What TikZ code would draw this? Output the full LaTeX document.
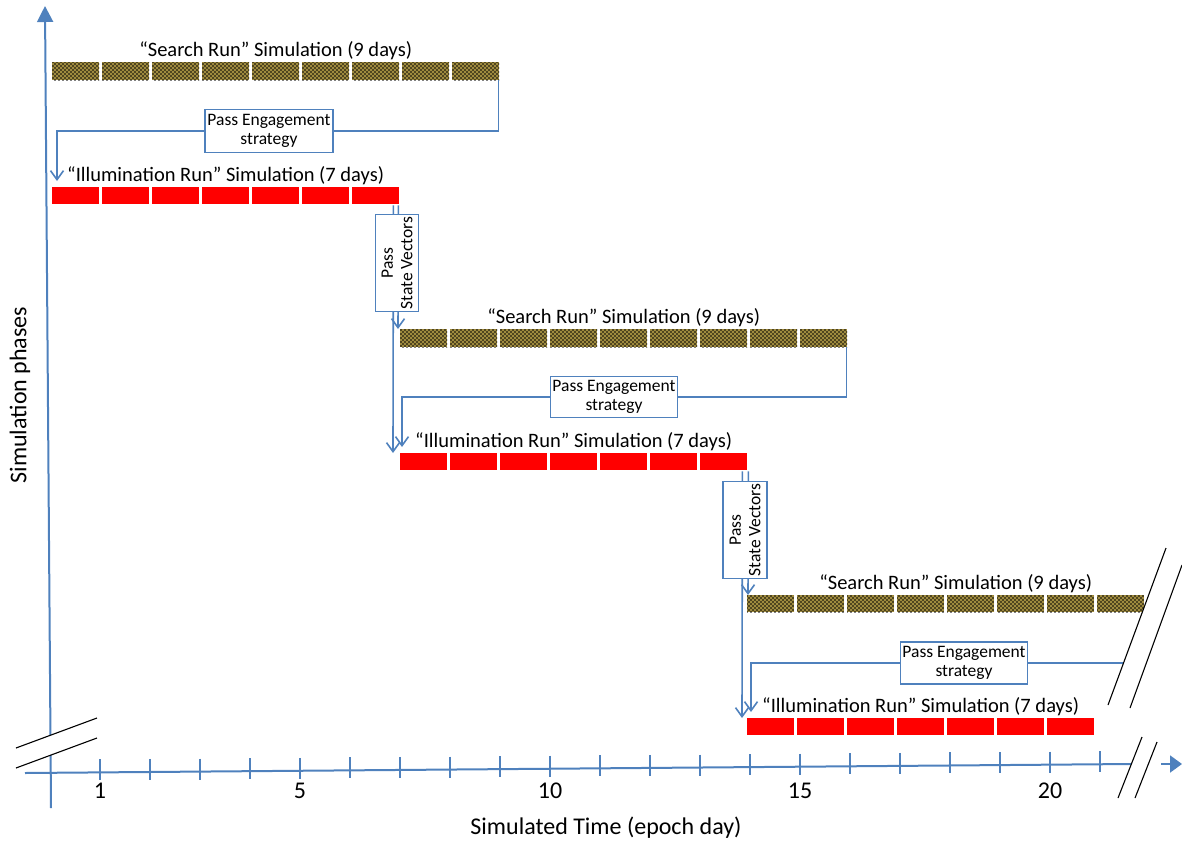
\documentclass[tikz,border=0pt]{standalone}
\usepackage{fontspec}
\setmainfont{Carlito}
\usetikzlibrary{arrows.meta,positioning,patterns}
\definecolor{lineblue}{RGB}{79,129,189}
\definecolor{searchgold}{RGB}{158,138,62}
\definecolor{illumred}{RGB}{255,0,0}
\pgfdeclarepatternformonly{searchdots}{\pgfqpoint{-1pt}{-1pt}}{\pgfqpoint{5pt}{5pt}}{\pgfqpoint{4pt}{4pt}}{
  \pgfpathcircle{\pgfqpoint{1pt}{1pt}}{0.8pt}
  \pgfpathcircle{\pgfqpoint{3pt}{3pt}}{0.8pt}
  \pgfusepath{fill}
}

\begin{document}
\begin{tikzpicture}[
  x=1pt, y=-1pt,
  axis/.style={draw=lineblue, line width=2pt},
  flow/.style={draw=lineblue, line width=1.6pt},
  open/.style={-{Straight Barb[length=9pt,width=13pt]}},
  brk/.style={draw=black, line width=1.1pt},
  runbar/.style={inner sep=0pt, minimum height=18pt, anchor=north west},
  searchseg/.style={fill=searchgold, postaction={pattern=searchdots, pattern color=black}},
  illumseg/.style={fill=illumred},
  runlabel/.style={font=\fontsize{20.5}{23}\selectfont, inner sep=1pt},
  passbox/.style={draw=lineblue, line width=1.2pt, fill=white, align=center,
    font=\fontsize{17.5}{19.5}\selectfont, inner sep=2pt},
  axislabel/.style={font=\fontsize{24}{27}\selectfont}
]
  \useasboundingbox (0,0) rectangle (1182,843);

  % axes
  \coordinate (ybot) at (51,808);
  \coordinate (ytop) at (45,6);
  \coordinate (xleft) at (25,773);
  \coordinate (xright) at (1132,764);
  \draw[axis, -{Triangle[length=16pt,width=16pt]}] (ybot) -- (ytop);
  \draw[axis] (xleft) -- (xright);
  \foreach \d in {1,...,21} {
    \pgfmathsetmacro\tx{50+50*\d}
    \pgfmathsetmacro\ty{773-9*(\tx-25)/1107}
    \draw[axis] (\tx,{\ty-13}) -- (\tx,{\ty+8});
  }
  \foreach \d in {1,5,10,15,20}
    \node[axislabel] (t\d) at ({50+50*\d},791) {\d};
  \coordinate (xarr) at (1161,764);
  \coordinate (xend) at (1182,764);
  \draw[axis, -{Triangle[length=12pt,width=17pt]}] (xarr) -- (xend);

  \node[axislabel, rotate=90] (ylab) at (20,395) {Simulation phases};
  \node[axislabel] (xlab) at (606,828) {Simulated Time (epoch day)};

  % run bars
  \node[runbar, minimum width=447pt] (s1) at (52,62) {};
  \node[runbar, minimum width=347pt] (i1) at (52,187) {};
  \node[runbar, minimum width=447pt] (s2) at (400,329) {};
  \node[runbar, minimum width=347pt] (i2) at (400,453) {};
  \node[runbar, minimum width=397pt] (s3) at (747,595) {};
  \node[runbar, minimum width=347pt] (i3) at (747,718) {};

  \foreach \i in {0,...,8} {
    \path[searchseg] ([xshift=\i*50pt]s1.north west) rectangle ++(47,18);
    \path[searchseg] ([xshift=\i*50pt]s2.north west) rectangle ++(47,18);
  }
  \foreach \i in {0,...,7}
    \path[searchseg] ([xshift=\i*50pt]s3.north west) rectangle ++(47,17);
  \foreach \i in {0,...,6} {
    \path[illumseg] ([xshift=\i*50pt]i1.north west) rectangle ++(47,17);
    \path[illumseg] ([xshift=\i*50pt]i2.north west) rectangle ++(47,17);
    \path[illumseg] ([xshift=\i*50pt]i3.north west) rectangle ++(47,17);
  }

  \node[runlabel, above=1pt of s1] (s1lab) {“Search Run” Simulation (9 days)};
  \node[runlabel, above=1pt of i1] (i1lab) {“Illumination Run” Simulation (7 days)};
  \node[runlabel, above=1pt of s2] (s2lab) {“Search Run” Simulation (9 days)};
  \node[runlabel, above=1pt of i2] (i2lab) {“Illumination Run” Simulation (7 days)};
  \node[runlabel, above=1pt of s3, xshift=10pt] (s3lab) {“Search Run” Simulation (9 days)};
  \node[runlabel, above=1pt of i3] (i3lab) {“Illumination Run” Simulation (7 days)};

  % engagement strategy hand-over
  \node[passbox, minimum width=128pt, minimum height=43pt] (pe1) at (269,131) {Pass Engagement\\strategy};
  \node[passbox, minimum width=124pt, minimum height=41pt] (pe2) at (614,397) {Pass Engagement\\strategy};
  \node[passbox, minimum width=124pt, minimum height=42pt] (pe3) at (964,663) {Pass Engagement\\strategy};
  \coordinate (e1) at ([xshift=5pt,yshift=6pt]i1.north west);
  \coordinate (e2) at ([xshift=2pt,yshift=6pt]i2.north west);
  \coordinate (e3) at ([xshift=4pt,yshift=6pt]i3.north west);
  \coordinate (c3) at (1127,663);

  \draw[flow] ([xshift=-1pt]s1.south east) |- (pe1.east);
  \draw[flow, open] (pe1.west) -| (e1);
  \draw[flow] ([xshift=-1pt]s2.south east) |- (pe2.east);
  \draw[flow, open] (pe2.west) -| (e2);
  \draw[flow] (c3) -- (pe3.east);
  \draw[flow, open] (pe3.west) -| (e3);

  % state vector hand-over
  \draw[flow, open] ([xshift=-1pt]i1.south east) -- ([xshift=-2pt]s2.north west);
  \draw[flow, open] ([xshift=-6pt]i1.south east) -- ([xshift=-7pt]i2.north west);
  \draw[flow, open] ([xshift=1pt]i2.south east) -- ([xshift=1pt]s3.north west);
  \draw[flow, open] ([xshift=-5pt]i2.south east) -- ([xshift=-5pt]i3.north west);
  \node[passbox, rotate=90, minimum width=96pt, minimum height=43pt] (psv1) at (397,263) {Pass\\State Vectors};
  \node[passbox, rotate=90, minimum width=95pt, minimum height=44pt] (psv2) at (745,530) {Pass\\State Vectors};

  % axis breaks
  \fill[white] (16,748) -- (97,718) -- (97,738) -- (16,768) -- cycle;
  \draw[brk] (16,748) -- (97,718);
  \draw[brk] (16,768) -- (97,738);
  \fill[white] (1108,705) -- (1166,548) -- (1189,548) -- (1130,708) -- cycle;
  \draw[brk] (1108,705) -- (1166,548);
  \draw[brk] (1130,708) -- (1182,565);
  \fill[white] (1118,798) -- (1142,737) -- (1159,737) -- (1135,798) -- cycle;
  \draw[brk] (1118,798) -- (1142,737);
  \draw[brk] (1135,798) -- (1157,742);
\end{tikzpicture}
\end{document}
